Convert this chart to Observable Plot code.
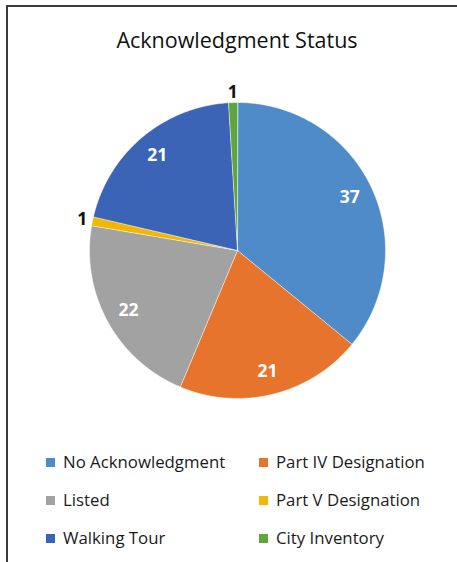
<!DOCTYPE html>
<html>
<head>
<meta charset="utf-8">
<script src="https://cdn.jsdelivr.net/npm/d3@7"></script>
<script src="https://cdn.jsdelivr.net/npm/@observablehq/plot@0.6"></script>
<style>
  html, body { margin: 0; padding: 0; background: #fff; width: 457px; height: 562px; overflow: hidden; }
  #frame { position: absolute; left: 6px; top: 5px; width: 470px; height: 600px; border-top: 2px solid #3a3a3a; border-left: 2px solid #3a3a3a; }
  #title { position: absolute; left: 0; top: 25px; width: 474px; text-align: center; font-family: "Open Sans", sans-serif; font-size: 21.5px; color: #111; line-height: 30px; }
  #chart { position: absolute; left: 0; top: 80px; }
  .leg { position: absolute; font-family: "Open Sans", sans-serif; font-size: 16.8px; color: #1a1a1a; line-height: 22px; white-space: nowrap; }
  .leg span.sw { display: inline-block; width: 9px; height: 9px; margin-right: 8px; vertical-align: 1px; }
</style>
</head>
<body>
<div id="frame"></div>
<div id="title">Acknowledgment Status</div>
<div id="chart"></div>
<div id="legend"></div>
<script>
const categories = ["No Acknowledgment", "Part IV Designation", "Listed", "Part V Designation", "Walking Tour", "City Inventory"];
const values = [37, 21, 22, 1, 21, 1];
const colors = ["#4f8bc9", "#e6742c", "#a2a2a2", "#f2b700", "#3b64b6", "#5ea63c"];
const legendOrder = [0, 1, 2, 3, 4, 5];

const total = d3.sum(values);
const slices = [];
let acc = 0;
categories.forEach((c, i) => {
  const a0 = acc / total * 2 * Math.PI;
  acc += values[i];
  const a1 = acc / total * 2 * Math.PI;
  slices.push({cat: c, value: values[i], a0, a1, mid: (a0 + a1) / 2});
});

const pts = [];
for (const s of slices) {
  pts.push({cat: s.cat, x: 0, y: 0});
  const n = Math.max(2, Math.ceil((s.a1 - s.a0) / (Math.PI / 360)));
  for (let k = 0; k <= n; k++) {
    const a = s.a0 + (s.a1 - s.a0) * k / n;
    pts.push({cat: s.cat, x: Math.sin(a), y: Math.cos(a)});
  }
}

const inside = slices.filter(s => s.value > 1).map(s => ({text: String(s.value), x: 0.84 * Math.sin(s.mid), y: 0.84 * Math.cos(s.mid)}));
const outside = slices.filter(s => s.value <= 1).map(s => ({text: String(s.value), x: 1.07 * Math.sin(s.mid), y: 1.07 * Math.cos(s.mid)}));

const cx = 237, cy = 170, r = 148;
const plot = Plot.plot({
  width: 457,
  height: 340,
  margin: 0,
  style: {background: "transparent"},
  x: {domain: [-1, 1], range: [cx - r, cx + r], axis: null},
  y: {domain: [-1, 1], range: [cy + r, cy - r], axis: null},
  color: {domain: categories, range: colors},
  marks: [
    Plot.line(pts, {x: "x", y: "y", z: "cat", fill: "cat", stroke: "white", strokeWidth: 0.5, curve: "linear-closed"}),
    Plot.text(inside, {x: "x", y: "y", text: "text", fill: "white", fontSize: 17.5, fontWeight: "bold", fontFamily: "Open Sans, sans-serif"}),
    Plot.text(outside, {x: "x", y: "y", text: "text", fill: "#111", fontSize: 17.5, fontWeight: "bold", fontFamily: "Open Sans, sans-serif"})
  ]
});
document.getElementById("chart").appendChild(plot);

const legend = document.getElementById("legend");
const colX = [46, 259];
const rowY = [451, 489, 527];
legendOrder.forEach((idx, j) => {
  const d = document.createElement("div");
  d.className = "leg";
  d.style.left = colX[j % 2] + "px";
  d.style.top = rowY[Math.floor(j / 2)] + "px";
  d.innerHTML = `<span class="sw" style="background:${colors[idx]}"></span>${categories[idx]}`;
  legend.appendChild(d);
});
</script>
</body>
</html>
